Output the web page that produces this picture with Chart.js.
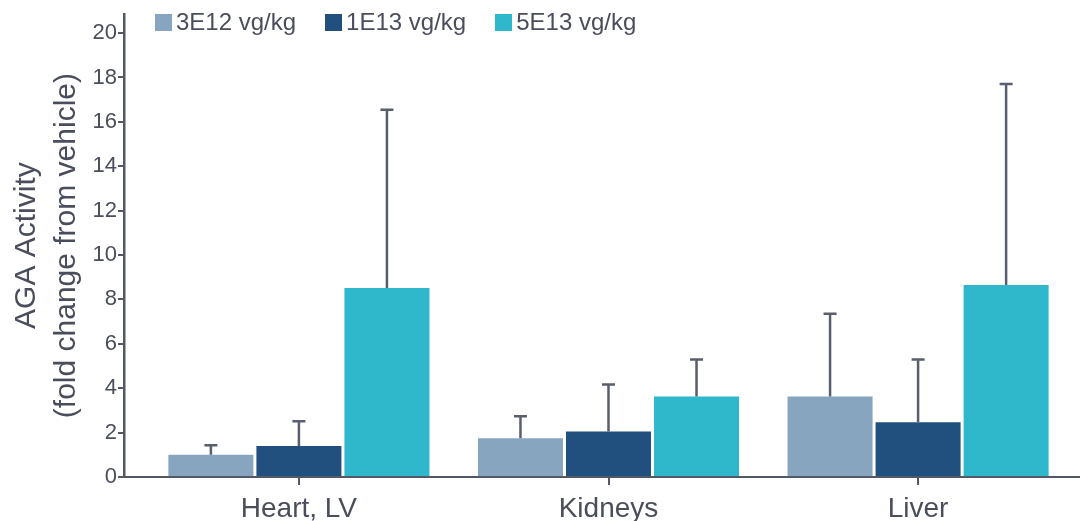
<!DOCTYPE html>
<html lang="en">
<head>
    <meta charset="UTF-8">
    <title>AGA Activity</title>
    <script src="https://cdn.jsdelivr.net/npm/chart.js"></script>
    <style>
        body { margin: 0; background: #fff; }
        .wrap { position: relative; width: 1080px; height: 521px; }
        #legend { position: absolute; left: 155px; top: 8px; display: flex; font-family: "Liberation Sans", Arial, sans-serif; font-size: 24px; color: #4a4e5c; }
        #legend .item { display: flex; align-items: center; margin-right: 29px; }
        #legend .box { width: 17px; height: 17px; margin-right: 4px; }
    </style>
</head>
<body>
<div class="wrap">
    <canvas id="chart" width="1080" height="521"></canvas>
    <div id="legend"></div>
</div>
<script>
// data
const categories = ['Heart, LV', 'Kidneys', 'Liver'];
const doses = ['3E12 vg/kg', '1E13 vg/kg', '5E13 vg/kg'];
const colors = ['#87a5bf', '#21507f', '#2fb8cc'];
const means3E12 = [1.0, 1.75, 3.63];
const means1E13 = [1.4, 2.05, 2.47];
const means5E13 = [8.52, 3.63, 8.65];
const upper3E12 = [1.43, 2.74, 7.35];
const upper1E13 = [2.51, 4.17, 5.29];
const upper5E13 = [16.55, 5.29, 17.7];
const yTicks = [0, 2, 4, 6, 8, 10, 12, 14, 16, 18, 20];

const textColor = '#4a4e5c';
const axisColor = '#535867';
const font = '"Liberation Sans", Arial, sans-serif';

const means = [means3E12, means1E13, means5E13];
const uppers = [upper3E12, upper1E13, upper5E13];

const datasets = doses.map((d, i) => ({
    label: d,
    data: means[i].map((v, j) => ({ x: j, y: v })),
    errTop: uppers[i],
    backgroundColor: colors[i],
    categoryPercentage: 0.853,
    barPercentage: 0.966
}));

// legend as html
document.getElementById('legend').innerHTML = doses.map((d, i) =>
    `<div class="item"><span class="box" style="background:${colors[i]}"></span>${d}</div>`).join('');

const errorBars = {
    id: 'errorBars',
    afterDatasetsDraw(chart) {
        const ctx = chart.ctx;
        const y = chart.scales.y;
        ctx.save();
        ctx.strokeStyle = '#5a5e6c';
        ctx.lineWidth = 2.5;
        chart.data.datasets.forEach((ds, i) => {
            chart.getDatasetMeta(i).data.forEach((bar, j) => {
                const top = y.getPixelForValue(ds.errTop[j]);
                ctx.beginPath();
                ctx.moveTo(bar.x, bar.y);
                ctx.lineTo(bar.x, top);
                ctx.moveTo(bar.x - 6.5, top);
                ctx.lineTo(bar.x + 6.5, top);
                ctx.stroke();
            });
        });
        ctx.restore();
    }
};

new Chart(document.getElementById('chart'), {
    type: 'bar',
    data: { datasets },
    plugins: [errorBars],
    options: {
        responsive: false,
        animation: false,
        layout: { padding: { top: 12, right: 0, left: 0, bottom: 0 } },
        plugins: { legend: { display: false }, tooltip: { enabled: false } },
        scales: {
            x: {
                type: 'linear',
                offset: false,
                min: -0.565,
                max: 2.523,
                afterBuildTicks: s => { s.ticks = categories.map((c, i) => ({ value: i })); },
                afterFit: s => { s.height = 44; },
                ticks: {
                    callback: v => categories[v],
                    color: textColor,
                    font: { family: font, size: 28 },
                    padding: 7,
                    maxRotation: 0
                },
                grid: { offset: false, drawOnChartArea: false, tickLength: 8, color: axisColor, lineWidth: 2 },
                border: { color: axisColor, width: 2 }
            },
            y: {
                min: 0,
                max: 20.85,
                afterBuildTicks: s => { s.ticks = yTicks.map(v => ({ value: v })); },
                afterFit: s => { s.width = 124; },
                ticks: {
                    color: textColor,
                    font: { family: font, size: 22 },
                    padding: 1
                },
                grid: { drawOnChartArea: false, tickLength: 6, color: axisColor, lineWidth: 2 },
                border: { color: axisColor, width: 2.5 },
                title: {
                    display: true,
                    text: ['AGA Activity', '(fold change from vehicle)'],
                    color: textColor,
                    font: { family: font, size: 30, lineHeight: 1.33 },
                    padding: { top: 7, bottom: 0 }
                }
            }
        }
    }
});
</script>
</body>
</html>
